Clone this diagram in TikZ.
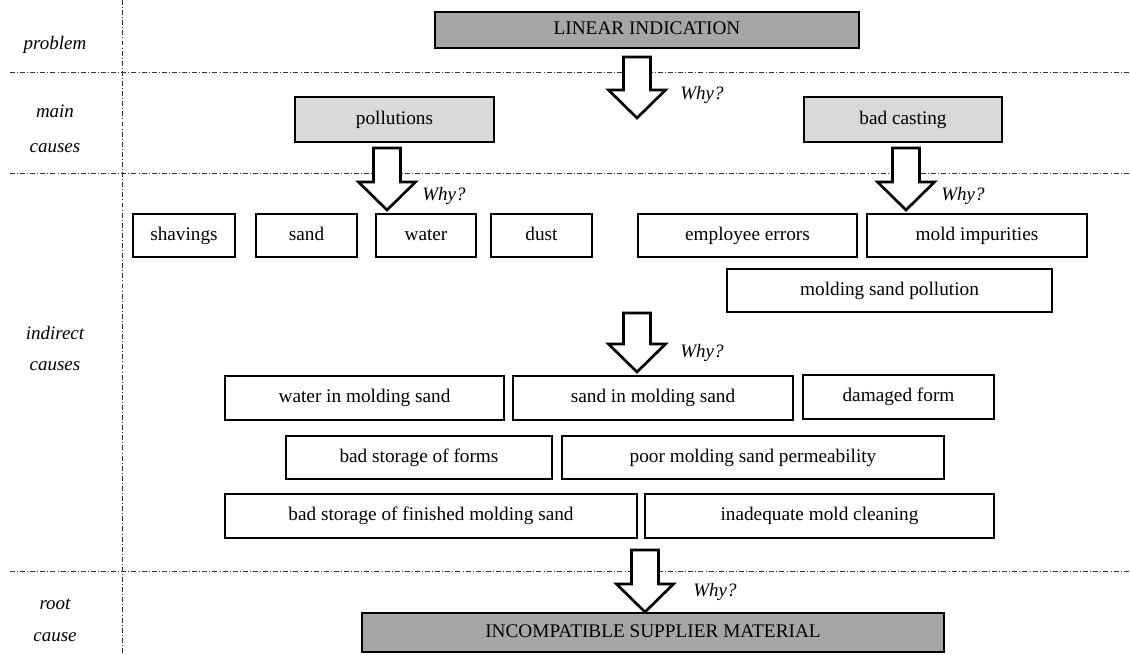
\documentclass[tikz,border=0pt]{standalone}
\usepackage{fontspec}
\setmainfont{Liberation Serif}
\usepackage{tikz}
\usetikzlibrary{calc}
\definecolor{darkGray}{HTML}{A6A6A6}
\definecolor{lightGray}{HTML}{D9D9D9}
\tikzstyle{cause}=[draw, line width=1.4pt, inner sep=0pt, text height=9.5pt, text depth=3pt, font=\fontsize{13.7}{16}\selectfont]
\tikzstyle{maincause}=[cause, line width=2.1pt, fill=lightGray]
\tikzstyle{problembox}=[cause, line width=2.1pt, fill=darkGray]
\tikzstyle{level}=[inner sep=0pt, text height=9.5pt, text depth=3pt, font=\fontsize{13.5}{16}\selectfont\itshape]
\tikzstyle{why}=[inner sep=0pt, text height=9.5pt, text depth=3pt, font=\fontsize{13.5}{16}\selectfont\itshape]
\tikzstyle{sep}=[line width=0.6pt, black!80, dash pattern=on 3.5pt off 1.5pt on 0.7pt off 1.5pt]
\tikzstyle{whyarrow}=[draw, fill=white, line width=1.9pt]

\begin{document}
\begin{tikzpicture}[x=0.025cm, y=-0.025cm]
      \def\px{0.025cm};
      % 太い矢印 (中心x, 上端y, 下端y)
      \def\bigarrow#1#2#3{
        \draw[whyarrow] ({#1-13.5},#2) -- ({#1+13.5},#2) -- ({#1+13.5},{#3-28})
          -- ({#1+28.5},{#3-28}) -- (#1,#3) -- ({#1-28.5},{#3-28})
          -- ({#1-13.5},{#3-28}) -- cycle;
      }

      \useasboundingbox (0,0) rectangle (1130,654);

      % 区切り線
      \draw[sep] (122,0) -- (122,654);
      \draw[sep] (10,72) -- (1130,72);
      \draw[sep] (10,173) -- (1130,173);
      \draw[sep] (10,571) -- (1130,571);

      % 左側の見出し
      \node[level] (Lprob) at (55,45) {problem};
      \node[level] (Lmain1) at (55,113) {main};
      \node[level] (Lmain2) at (55,148) {causes};
      \node[level] (Lind1) at (55,335) {indirect};
      \node[level] (Lind2) at (55,366) {causes};
      \node[level] (Lroot1) at (55,605) {root};
      \node[level] (Lroot2) at (55,637) {cause};

      % 問題
      \node[problembox, minimum width=424*\px, minimum height=36*\px] (LI) at (647,30) {LINEAR INDICATION};

      % 主な原因
      \node[maincause, minimum width=199*\px, minimum height=45*\px] (P) at (394.5,119.5) {pollutions};
      \node[maincause, minimum width=198*\px, minimum height=45*\px] (BC) at (903,119.5) {bad casting};

      % 間接的な原因
      \node[cause, minimum width=102*\px, minimum height=43*\px] (Sh) at (184,235.5) {shavings};
      \node[cause, minimum width=101*\px, minimum height=43*\px] (Sa) at (306.5,235.5) {sand};
      \node[cause, minimum width=100*\px, minimum height=43*\px] (Wa) at (426,235.5) {water};
      \node[cause, minimum width=101*\px, minimum height=43*\px] (Du) at (541.5,235.5) {dust};
      \node[cause, minimum width=219*\px, minimum height=43*\px] (EE) at (747.5,235.5) {employee errors};
      \node[cause, minimum width=220*\px, minimum height=43*\px] (MI) at (977,235.5) {mold impurities};
      \node[cause, minimum width=325*\px, minimum height=43*\px] (MSP) at (889.5,290.5) {molding sand pollution};

      \node[cause, minimum width=279*\px, minimum height=44*\px] (WMS) at (364.5,398) {water in molding sand};
      \node[cause, minimum width=280*\px, minimum height=44*\px] (SMS) at (653,398) {sand in molding sand};
      \node[cause, minimum width=191*\px, minimum height=44*\px] (DF) at (898.5,397) {damaged form};
      \node[cause, minimum width=266*\px, minimum height=43*\px] (BSF) at (419,457.5) {bad storage of forms};
      \node[cause, minimum width=382*\px, minimum height=43*\px] (PMS) at (753,457.5) {poor molding sand permeability};
      \node[cause, minimum width=412*\px, minimum height=44*\px] (BSM) at (431,516) {bad storage of finished molding sand};
      \node[cause, minimum width=349*\px, minimum height=44*\px] (IMC) at (819.5,516) {inadequate mold cleaning};

      % 根本原因
      \node[problembox, minimum width=582*\px, minimum height=39*\px] (ISM) at (653,632.5) {INCOMPATIBLE SUPPLIER MATERIAL};

      % 矢印
      \bigarrow{637}{57}{118}
      \bigarrow{387}{148}{210}
      \bigarrow{906}{148}{210}
      \bigarrow{637}{313}{372}
      \bigarrow{645}{550}{612}

      % Why?
      \node[why] (W1) at (702,95) {Why?};
      \node[why] (W2) at (444,196) {Why?};
      \node[why] (W3) at (963,196) {Why?};
      \node[why] (W4) at (702,353) {Why?};
      \node[why] (W5) at (715,592) {Why?};
\end{tikzpicture}
\end{document}
